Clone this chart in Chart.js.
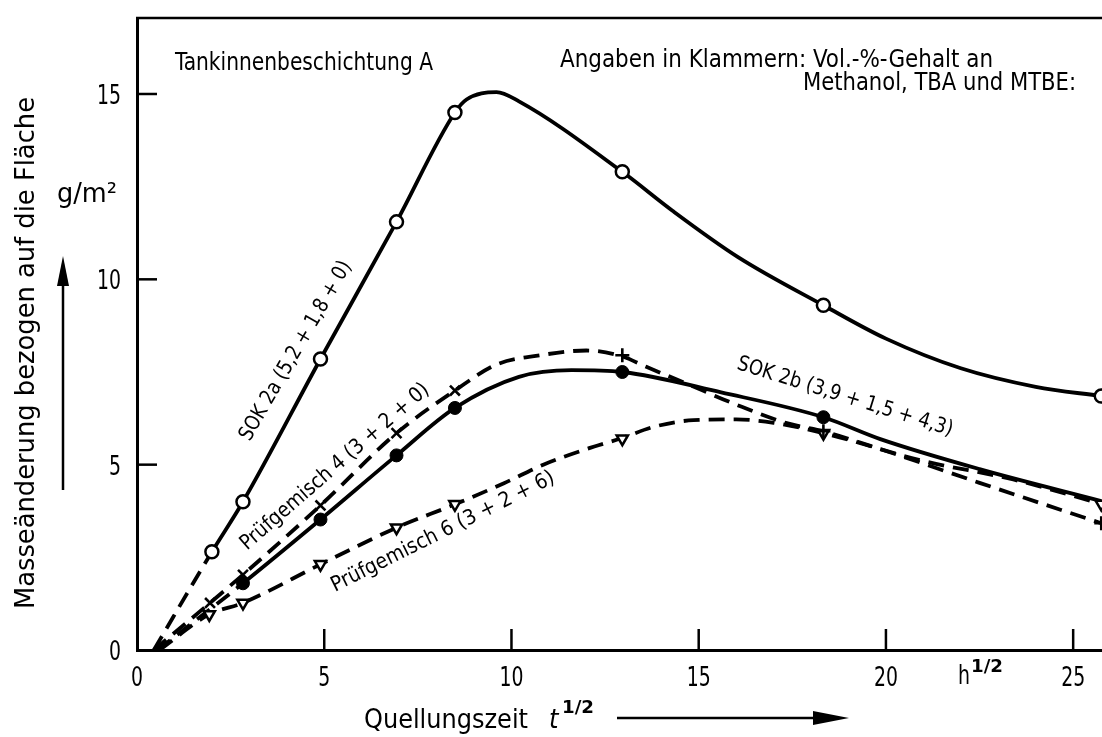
<!DOCTYPE html>
<html><head><meta charset="utf-8">
<script src="https://cdn.jsdelivr.net/npm/chart.js@4/dist/chart.umd.min.js"></script>
<style>html,body{margin:0;padding:0;background:#fff;overflow:hidden}#wrap{position:relative;width:1102px;height:737px}</style>
</head><body><div id="wrap"><canvas id="c" width="1102" height="737"></canvas></div>
<script>
// ---- axis ticks ----
const xTicks = [0, 5, 10, 15, 20, 25];
const yTicks = [0, 5, 10, 15];

// ---- measured points (x = sqrt of swelling time in h) ----
const sok2aX = [2.0, 2.83, 4.9, 6.93, 8.49, 12.96, 18.33, 25.75];
const sok2aY = [2.65, 4.0, 7.85, 11.55, 14.5, 12.9, 9.3, 6.85];

const sok2bX = [2.83, 4.9, 6.93, 8.49, 12.96, 18.33];
const sok2bY = [1.8, 3.52, 5.25, 6.53, 7.5, 6.28];

const pg4X = [1.95, 2.83, 4.9, 6.93, 8.49, 12.96, 18.33, 25.75];
const pg4Y = [1.27, 2.03, 3.9, 5.85, 7.0, 7.95, 5.9, 3.42];

const pg6X = [1.93, 2.83, 4.9, 6.93, 8.49, 12.96, 18.33, 25.75];
const pg6Y = [0.96, 1.27, 2.31, 3.3, 3.93, 5.7, 5.85, 3.94];

// ---- drawn curves ----
const sok2aCurveX = [0.45, 2.0, 2.83, 4.9, 6.93, 8.49, 8.8, 9.6, 10.2, 12.96, 14.3, 16.05, 18.33, 20.0, 22.0, 24.0, 25.75];
const sok2aCurveY = [0, 2.65, 4.0, 7.85, 11.55, 14.5, 14.85, 15.05, 14.8, 12.9, 11.85, 10.6, 9.3, 8.4, 7.6, 7.1, 6.85];

const sok2bCurveX = [0.55, 2.83, 4.9, 6.93, 8.49, 10.2, 11.6, 12.96, 15.6, 18.33, 19.85, 22.5, 25.75];
const sok2bCurveY = [0, 1.8, 3.52, 5.25, 6.53, 7.37, 7.55, 7.5, 6.95, 6.28, 5.69, 4.88, 4.02];

const pg4CurveX = [0.45, 1.95, 2.83, 4.9, 6.93, 8.49, 9.6, 10.7, 12.0, 12.96, 13.6, 14.6, 16.0, 17.35, 18.33, 19.85, 22.5, 25.75];
const pg4CurveY = [0, 1.27, 2.03, 3.9, 5.85, 7.0, 7.7, 7.94, 8.08, 7.92, 7.64, 7.22, 6.62, 6.12, 5.9, 5.42, 4.51, 3.42];

const pg6CurveX = [0.6, 1.93, 2.83, 4.9, 6.93, 8.49, 9.8, 10.85, 12.0, 12.96, 13.8, 14.86, 16.0, 17.0, 18.33, 21.0, 23.4, 25.75];
const pg6CurveY = [0, 0.96, 1.27, 2.31, 3.3, 3.93, 4.5, 5.0, 5.42, 5.72, 6.02, 6.2, 6.22, 6.13, 5.85, 5.1, 4.6, 3.94];

// ---- texts ----
const labelSok2a = 'SOK 2a (5,2 + 1,8 + 0)';
const labelSok2b = 'SOK 2b (3,9 + 1,5 + 4,3)';
const labelPg4 = 'Prüfgemisch 4 (3 + 2 + 0)';
const labelPg6 = 'Prüfgemisch 6 (3 + 2 + 6)';
const titleText = 'Tankinnenbeschichtung A';
const noteLine1 = 'Angaben in Klammern: Vol.-%-Gehalt an';
const noteLine2 = 'Methanol, TBA und MTBE:';
const yTitle = 'Masseänderung bezogen auf die Fläche';
const yUnit = 'g/m²';
const xTitle = 'Quellungszeit';
const xUnit = 'h';

const FONT = "'DejaVu Sans Condensed','DejaVu Sans',sans-serif";
const DASH = [16, 9];
const LW = 3.8;

const pts = (xs, ys) => xs.map((x, i) => ({x, y: ys[i]}));

function curve(xs, ys, dashedAll, dashedFirst) {
  return {
    data: pts(xs, ys), showLine: true, pointRadius: 0, pointHoverRadius: 0,
    borderColor: '#000', borderWidth: LW, borderDash: dashedAll ? DASH : [],
    cubicInterpolationMode: 'monotone', order: 2, clip: false,
    segment: dashedFirst ? {borderDash: c => c.p0DataIndex < dashedFirst ? DASH : undefined} : undefined
  };
}
function markers(xs, ys, style) {
  return Object.assign({data: pts(xs, ys), showLine: false, order: 0, clip: false,
    borderColor: '#000', pointBorderColor: '#000'}, style);
}

function fitText(ctx, text, x, y, size, targetW, o) {
  o = o || {};
  ctx.save();
  ctx.font = (o.italic ? 'italic ' : '') + (o.bold ? 'bold ' : '') + size + 'px ' + FONT;
  ctx.translate(x, y);
  if (o.angle) ctx.rotate(o.angle * Math.PI / 180);
  const w = ctx.measureText(text).width;
  if (targetW) ctx.scale(targetW / w, 1);
  ctx.textAlign = o.align || 'left';
  ctx.textBaseline = o.baseline || 'alphabetic';
  ctx.fillStyle = '#000';
  ctx.fillText(text, 0, 0);
  ctx.restore();
}
function arrow(ctx, x1, y1, x2, y2, head, half) {
  const a = Math.atan2(y2 - y1, x2 - x1);
  ctx.save();
  ctx.strokeStyle = '#000'; ctx.fillStyle = '#000'; ctx.lineWidth = 2.5;
  ctx.beginPath(); ctx.moveTo(x1, y1);
  ctx.lineTo(x2 - head * Math.cos(a), y2 - head * Math.sin(a)); ctx.stroke();
  ctx.translate(x2, y2); ctx.rotate(a);
  ctx.beginPath(); ctx.moveTo(0, 0); ctx.lineTo(-head, -half); ctx.lineTo(-head, half); ctx.closePath(); ctx.fill();
  ctx.restore();
}

const decor = {
  id: 'decor',
  afterDraw(chart) {
    const {ctx, chartArea: a, scales: {x, y}} = chart;
    ctx.save();
    ctx.strokeStyle = '#000'; ctx.lineWidth = 2.5;
    // top frame
    ctx.beginPath(); ctx.moveTo(a.left - 1, a.top); ctx.lineTo(a.right, a.top); ctx.stroke();
    // inward ticks
    x.ticks.forEach(t => { if (t.value === 0) return; const px = x.getPixelForValue(t.value);
      ctx.beginPath(); ctx.moveTo(px, a.bottom); ctx.lineTo(px, a.bottom - 21); ctx.stroke(); });
    y.ticks.forEach(t => { if (t.value === 0) return; const py = y.getPixelForValue(t.value);
      ctx.beginPath(); ctx.moveTo(a.left, py); ctx.lineTo(a.left + 20, py); ctx.stroke(); });
    ctx.restore();

    // tick labels (narrow lettering)
    x.ticks.forEach(t => { const s = String(t.value);
      fitText(ctx, s, x.getPixelForValue(t.value), a.bottom + 36, 27, s.length * 12, {align: 'center'}); });
    y.ticks.forEach(t => { const s = String(t.value);
      fitText(ctx, s, a.left - 16, y.getPixelForValue(t.value) + 10, 27, s.length * 12, {align: 'right'}); });

    // header texts
    fitText(ctx, titleText, 175, 70, 24, 258);
    fitText(ctx, noteLine1, 560, 67, 24, 433);
    fitText(ctx, noteLine2, 803, 90, 24, 273);

    // y title + unit + arrow
    fitText(ctx, yTitle, 27, 353, 27, 512, {angle: -90, align: 'center', baseline: 'middle'});
    fitText(ctx, yUnit, 57, 202, 26, 60);
    arrow(ctx, 63, 490, 63, 256, 30, 6);

    // x title + arrow
    fitText(ctx, xTitle, 364, 728, 26, 164);
    fitText(ctx, 't', 549, 728, 27, null, {italic: true});
    fitText(ctx, '1/2', 562, 713, 18, 32, {bold: true});
    arrow(ctx, 617, 718, 849, 718, 36, 7);

    // unit label between 20 and 25
    fitText(ctx, xUnit, 958, 684, 27, 12);
    fitText(ctx, '1/2', 971, 672, 18, 32, {bold: true});

    // curve labels
    fitText(ctx, labelSok2a, 296, 351, 21, 204, {angle: -60, align: 'center', baseline: 'middle'});
    fitText(ctx, labelPg4, 335, 467, 21, 243, {angle: -41, align: 'center', baseline: 'middle'});
    fitText(ctx, labelPg6, 443, 532, 21, 247, {angle: -26.5, align: 'center', baseline: 'middle'});
    fitText(ctx, labelSok2b, 845, 397, 21, 225, {angle: 17.3, align: 'center', baseline: 'middle'});
  }
};

new Chart(document.getElementById('c'), {
  type: 'scatter',
  data: {
    datasets: [
      curve(sok2aCurveX, sok2aCurveY, false, 1),
      curve(sok2bCurveX, sok2bCurveY, false, 1),
      curve(pg4CurveX, pg4CurveY, true, 0),
      curve(pg6CurveX, pg6CurveY, true, 0),
      markers(sok2aX, sok2aY, {pointStyle: 'circle', pointRadius: 6.5, pointBackgroundColor: '#fff', pointBorderWidth: 2.5}),
      markers(sok2bX, sok2bY, {pointStyle: 'circle', pointRadius: 6.5, pointBackgroundColor: '#000', pointBorderWidth: 1}),
      markers(pg4X, pg4Y, {pointStyle: c => c.dataIndex < 5 ? 'crossRot' : 'cross', pointRadius: 7, pointBorderWidth: 2.6}),
      markers(pg6X, pg6Y, {pointStyle: 'triangle', rotation: 180, pointRadius: 6.5, pointBackgroundColor: '#fff', pointBorderWidth: 2.5})
    ]
  },
  options: {
    responsive: false, animation: false, devicePixelRatio: 1,
    layout: {autoPadding: false, padding: {top: 18, right: 0, left: 0, bottom: 0}},
    plugins: {legend: {display: false}, tooltip: {enabled: false}},
    events: [],
    scales: {
      x: {
        type: 'linear', position: 'bottom', min: 0, max: 25.77,
        afterFit: s => { s.height = 87; s.paddingLeft = 0; s.paddingRight = 0; },
        afterBuildTicks: s => { s.ticks = xTicks.map(v => ({value: v})); },
        grid: {display: false},
        border: {display: true, color: '#000', width: 3},
        ticks: {display: false}
      },
      y: {
        type: 'linear', min: 0, max: 17.05,
        afterFit: s => { s.width = 137; s.paddingTop = 0; s.paddingBottom = 0; },
        afterBuildTicks: s => { s.ticks = yTicks.map(v => ({value: v})); },
        grid: {display: false},
        border: {display: true, color: '#000', width: 3},
        ticks: {display: false}
      }
    }
  },
  plugins: [decor]
});
</script>
</body></html>
